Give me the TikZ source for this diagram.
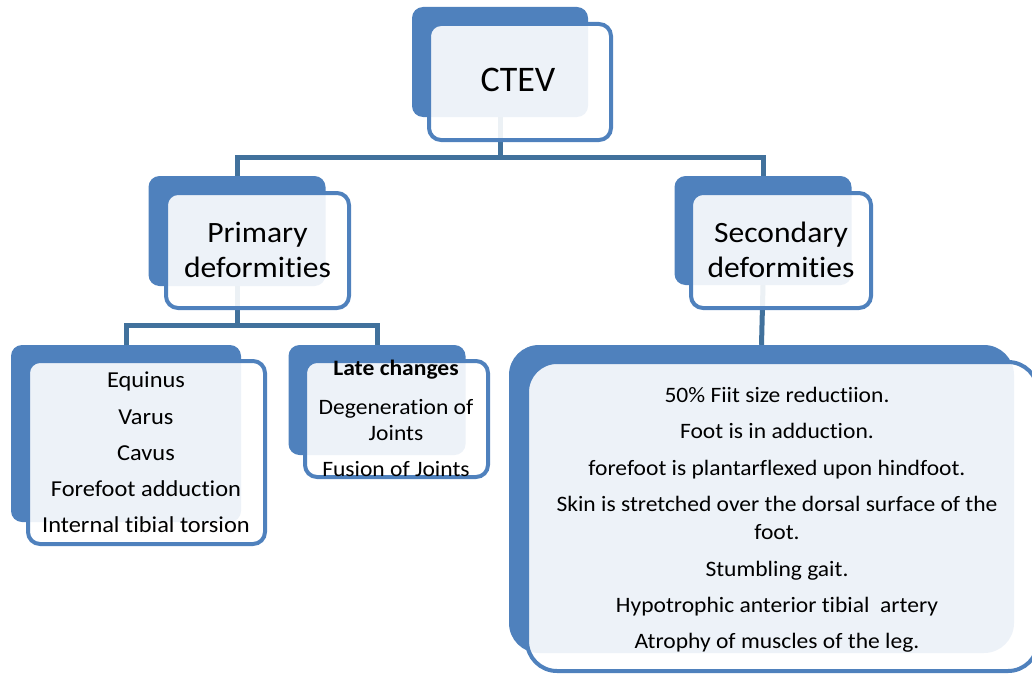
\documentclass[tikz,border=0pt]{standalone}
\usepackage{fontspec}
\setmainfont{Carlito}[Ligatures=NoCommon]
\newfontfamily\wfont{Carlito}[Ligatures=NoCommon,FakeStretch=1.07]
\definecolor{boxblue}{HTML}{4F81BD}
\definecolor{lineblue}{HTML}{41719C}
\begin{document}
\begin{tikzpicture}[x=1pt,y=-1pt,
  back/.style={draw=none,fill=boxblue,rounded corners=11pt,inner sep=0pt},
  front/.style={draw=boxblue,line width=4pt,fill=white,fill opacity=0.9,rounded corners=12pt,inner sep=0pt},
  txt/.style={align=center,inner sep=0pt,text=black},
  conn/.style={draw=lineblue,line width=5pt}
]
\useasboundingbox (0,0) rectangle (1032,674);
% back boxes
\node[back,minimum width=176pt,minimum height=110pt] (ctevB) at (500,62) {};
\node[back,minimum width=177pt,minimum height=110pt] (primB) at (237,231) {};
\node[back,minimum width=177pt,minimum height=109pt] (secB) at (763,230.5) {};
\node[back,minimum width=230pt,minimum height=177pt] (eqB) at (126,433.5) {};
\node[back,minimum width=177pt,minimum height=110pt] (lateB) at (377,400) {};
\node[back,minimum width=505pt,minimum height=308pt,rounded corners=30pt] (secListB) at (761.5,499) {};
% connectors
\coordinate (j1) at (500,157);
\coordinate (j2) at (237,325);
\draw[conn] (ctevB.south) -- (ctevB.south |- j1) -| (primB.north);
\draw[conn] (ctevB.south) -- (ctevB.south |- j1) -| (secB.north);
\draw[conn] (primB.south) -- (primB.south |- j2) -| (eqB.north);
\draw[conn] (primB.south) -- (primB.south |- j2) -| (lateB.north);
\draw[conn] (secB.south) -- (secListB.north);
% front boxes
\node[front,minimum width=182pt,minimum height=116pt] (ctevF) at (520,82) {};
\node[front,minimum width=183pt,minimum height=115pt] (primF) at (257.5,250.5) {};
\node[front,minimum width=180pt,minimum height=115pt] (secF) at (781,250.5) {};
\node[front,minimum width=237pt,minimum height=183pt] (eqF) at (146.5,452.5) {};
\node[front,minimum width=183pt,minimum height=116pt] (lateF) at (396.5,419) {};
\node[front,minimum width=511pt,minimum height=309pt,rounded corners=30pt] (secListF) at (782.5,516.5) {};
% texts
\node[txt,font=\fontsize{36}{44}\selectfont] (ctevT) at (518,80) {CTEV};
\node[txt,font=\wfont\fontsize{29.5}{35}\selectfont] (primT) at (257.5,250) {Primary\\deformities};
\node[txt,font=\wfont\fontsize{29.5}{35}\selectfont] (secT) at (781,250) {Secondary\\deformities};
\node[txt,font=\wfont\fontsize{22.8}{27}\selectfont] (eqT) at (146,452.5) {Equinus\\[9.2pt]Varus\\[9.2pt]Cavus\\[9.2pt]Forefoot adduction\\[9.2pt]Internal tibial torsion};
\node[txt,font=\wfont\fontsize{22}{26}\selectfont] (lateT) at (396,418) {{\bfseries Late changes}\\[13pt]Degeneration of\\Joints\\[10pt]Fusion of Joints};
\node[txt,font=\wfont\fontsize{22}{28}\selectfont] (secListT) at (777,520) {50\% Fiit size reductiion.\\[8.4pt]Foot is in adduction.\\[8.4pt]forefoot is plantarflexed upon hindfoot.\\[8.4pt]Skin is stretched over the dorsal surface of the\\foot.\\[8.4pt]Stumbling gait.\\[8.4pt]Hypotrophic anterior tibial\ \ artery\\[8.4pt]Atrophy of muscles of the leg.};
\end{tikzpicture}
\end{document}
